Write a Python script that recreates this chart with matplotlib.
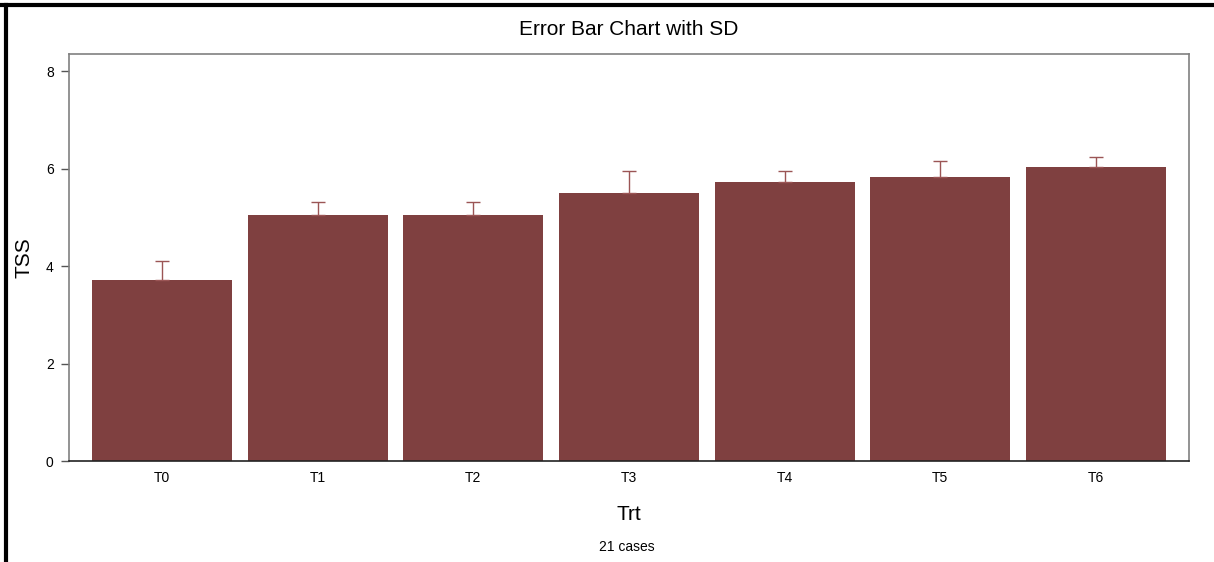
import numpy as np
import matplotlib.pyplot as plt
from matplotlib.lines import Line2D

plt.rcParams['font.family'] = ['Liberation Sans', 'DejaVu Sans']

trt = ['T0', 'T1', 'T2', 'T3', 'T4', 'T5', 'T6']
tss_mean = [3.71, 5.05, 5.05, 5.50, 5.72, 5.82, 6.04]
tss_sd = [0.40, 0.26, 0.26, 0.46, 0.24, 0.34, 0.20]

bar_color = '#7f4040'
err_color = '#9b5555'

fig = plt.figure(figsize=(12.14, 5.62), dpi=100)
ax = fig.add_axes([0.0568, 0.1797, 0.9226, 0.7242])

x = np.arange(len(trt))
ax.bar(x, tss_mean, width=0.9, color=bar_color, zorder=2)
ax.errorbar(x, tss_mean, yerr=[np.zeros(len(trt)), tss_sd], fmt='none',
            ecolor=err_color, elinewidth=1, capsize=4.7, capthick=1, zorder=3)

ax.set_xlim(-0.6, 6.6)
ax.set_ylim(0, 8.35)
ax.set_yticks([0, 2, 4, 6, 8])
ax.set_xticks(x)
ax.set_xticklabels(trt)
ax.tick_params(axis='x', length=0, pad=7, labelsize=10)
ax.tick_params(axis='y', length=6, width=1, color='#555555', pad=5, labelsize=10)

for side in ['left', 'right', 'top']:
    ax.spines[side].set_color('#808080')
    ax.spines[side].set_linewidth(1.2)
ax.spines['bottom'].set_color('#222222')
ax.spines['bottom'].set_linewidth(1.2)

ax.set_title('Error Bar Chart with SD', fontsize=15, pad=14)
ax.set_xlabel('Trt', fontsize=15)
ax.set_ylabel('TSS', fontsize=15)
ax.xaxis.set_label_coords(0.5, -0.108)
ax.yaxis.set_label_coords(-0.032, 0.5)
fig.text(627 / 1214, 1 - 547 / 562, '21 cases', ha='center', va='center', fontsize=10)

# frame around the picture
fig.add_artist(Line2D([0, 1], [1 - 5 / 562, 1 - 5 / 562], color='black', lw=3,
                      transform=fig.transFigure))
fig.add_artist(Line2D([6 / 1214, 6 / 1214], [0, 1 - 5 / 562], color='black', lw=3,
                      transform=fig.transFigure))

fig.savefig('out.png', dpi=100)
